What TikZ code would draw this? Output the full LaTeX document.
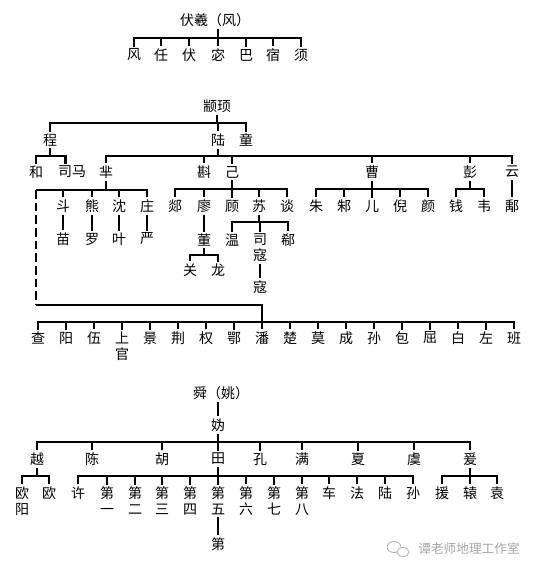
\documentclass[tikz,border=0pt]{standalone}
\usepackage{fontspec}
\newfontfamily\cjk{Noto Sans CJK SC}
\usepackage{tikz}

\tikzset{
  nm/.style={inner sep=1.4pt, align=center, font=\cjk\fontsize{10.5}{12}\selectfont},
  ln/.style={line width=1.8pt},
  dln/.style={line width=1.8pt, dash pattern=on 6.5pt off 3pt},
  wm/.style={inner sep=0.75pt, text=black!35, font=\cjk\fontsize{9.5}{11}\selectfont},
}

\begin{document}
\begin{tikzpicture}[x=0.75pt,y=0.75pt,yscale=-1,xscale=1]
\path[use as bounding box, fill=white] (0,0) rectangle (538,573);

%% ---------------- 伏羲 ----------------
% Text Node
\node[nm] (fuxi) at (215,20) {伏羲（风）};
\node[nm] (feng) at (134,55) {风};
\node[nm] (ren) at (161,55) {任};
\node[nm] (fu) at (189,55) {伏};
\node[nm] (mi) at (218,55) {宓};
\node[nm] (ba) at (246,55) {巴};
\node[nm] (su) at (273,55) {宿};
\node[nm] (xu) at (301,55) {须};
\coordinate (rFx) at (0,38);
%Straight Lines
\draw[ln] (mi.north |- fuxi.south) -- (mi.north |- rFx);
\draw[ln] (feng.north) |- (xu.north |- rFx) -- (xu.north);
\draw[ln] (ren.north) -- (ren.north |- rFx) (fu.north) -- (fu.north |- rFx)
  (mi.north) -- (mi.north |- rFx) (ba.north) -- (ba.north |- rFx)
  (su.north) -- (su.north |- rFx);

%% ---------------- 颛顼 ----------------
% Text Node
\node[nm] (zhuanxu) at (217,106) {颛顼};
\node[nm] (cheng) at (50,140) {程};
\node[nm] (lu) at (218,140) {陆};
\node[nm] (tong) at (246,140) {童};
\coordinate (rZx) at (0,123);
%Straight Lines
\draw[ln] (zhuanxu.south) -- (zhuanxu.south |- rZx);
\draw[ln] (cheng.north) |- (tong.north |- rZx) -- (tong.north);
\draw[ln] (lu.north) -- (lu.north |- rZx);

% Text Node
\node[nm] (he) at (36,172) {和};
\node[nm] (sima) at (72,172) {司马};
\node[nm] (mi2) at (106,172) {芈};
\node[nm] (zhen) at (204,172) {斟};
\node[nm] (ji) at (232,172) {己};
\node[nm] (cao) at (372,172) {曹};
\node[nm] (peng) at (470,172) {彭};
\node[nm] (yun) at (512,172) {云};
\coordinate (rCh) at (0,156);
%Straight Lines
\draw[ln] (cheng.south) -- (cheng.south |- rCh);
\draw[ln] (he.north) |- ([xshift=-5pt]sima.north |- rCh) -- ([xshift=-5pt]sima.north);
\draw[ln] (lu.south) -- (lu.south |- rCh);
\draw[ln] (mi2.north) |- (yun.north |- rCh) -- (yun.north);
\draw[ln] (zhen.north) -- (zhen.north |- rCh) (ji.north) -- (ji.north |- rCh)
  (cao.north) -- (cao.north |- rCh) (peng.north) -- (peng.north |- rCh);

% Text Node
\node[nm] (dou) at (63,206) {斗};
\node[nm] (xiong) at (92,206) {熊};
\node[nm] (shen) at (119,206) {沈};
\node[nm] (zhuang) at (147,206) {庄};
\node[nm] (miao) at (63,239) {苗};
\node[nm] (luo) at (92,239) {罗};
\node[nm] (ye) at (119,239) {叶};
\node[nm] (yan) at (147,239) {严};
\coordinate (rMi) at (0,190);
\coordinate (dTop) at (36,190);
\coordinate (dBot) at (36,305);
%Straight Lines
\draw[ln] (mi2.south) -- (mi2.south |- rMi);
\draw[ln] (dTop) -| (zhuang.north);
\draw[ln] (dou.north) -- (dou.north |- rMi) (xiong.north) -- (xiong.north |- rMi)
  (shen.north) -- (shen.north |- rMi);
\draw[ln] (dou.south) -- (miao.north);
\draw[ln] (xiong.south) -- (luo.north);
\draw[ln] (shen.south) -- (ye.north);
\draw[ln] (zhuang.south) -- (yan.north);
\draw[dln] (dTop) -- (dBot);

% Text Node
\node[nm] (tan) at (175,206) {郯};
\node[nm] (liao) at (204,206) {廖};
\node[nm] (gu) at (232,206) {顾};
\node[nm] (su2) at (259,206) {苏};
\node[nm] (tan2) at (287,206) {谈};
\node[nm] (dong) at (204,240) {董};
\node[nm] (guan) at (190,270) {关};
\node[nm] (long) at (218,270) {龙};
\node[nm] (wen) at (232,240) {温};
\node[nm] (sikou) at (260,248) {司\\寇};
\node[nm] (xi) at (288,240) {郗};
\node[nm] (kou) at (260,287) {寇};
\coordinate (rJi) at (0,189);
\coordinate (rSu) at (0,222);
\coordinate (rDong) at (0,255);
%Straight Lines
\draw[ln] (ji.south) -- (ji.south |- rJi);
\draw[ln] (tan.north) |- (tan2.north |- rJi) -- (tan2.north);
\draw[ln] (liao.north) -- (liao.north |- rJi) (gu.north) -- (gu.north |- rJi)
  (su2.north) -- (su2.north |- rJi);
\draw[ln] (liao.south) -- (dong.north);
\draw[ln] (dong.south) -- (dong.south |- rDong);
\draw[ln] (guan.north) |- (long.north |- rDong) -- (long.north);
\draw[ln] (su2.south) -- (su2.south |- rSu);
\draw[ln] (wen.north) |- (xi.north |- rSu) -- (xi.north);
\draw[ln] (sikou.north) -- (sikou.north |- rSu);
\draw[ln] (sikou.south) -- (kou.north);

% Text Node
\node[nm] (zhu) at (316,206) {朱};
\node[nm] (zhu2) at (344,206) {邾};
\node[nm] (er) at (372,206) {儿};
\node[nm] (ni) at (400,206) {倪};
\node[nm] (yan2) at (428,206) {颜};
\node[nm] (qian) at (456,206) {钱};
\node[nm] (wei) at (484,206) {韦};
\node[nm] (yu) at (512,206) {鄅};
\coordinate (rCao) at (0,189);
%Straight Lines
\draw[ln] (cao.south) -- (er.north);
\draw[ln] (zhu.north) |- (yan2.north |- rCao) -- (yan2.north);
\draw[ln] (zhu2.north) -- (zhu2.north |- rCao) (ni.north) -- (ni.north |- rCao);
\draw[ln] (peng.south) -- (peng.south |- rCao);
\draw[ln] (qian.north) |- (wei.north |- rCao) -- (wei.north);
\draw[ln] (yun.south) -- (yu.north);

% Text Node
\node[nm] (cha) at (38,338) {查};
\node[nm] (yang) at (66,338) {阳};
\node[nm] (wu) at (94,338) {伍};
\node[nm] (shangguan) at (122,346) {上\\官};
\node[nm] (jing) at (150,338) {景};
\node[nm] (jing2) at (178,338) {荆};
\node[nm] (quan) at (206,338) {权};
\node[nm] (e) at (234,338) {鄂};
\node[nm] (pan) at (262,338) {潘};
\node[nm] (chu) at (290,338) {楚};
\node[nm] (mo) at (318,338) {莫};
\node[nm] (cheng2) at (346,338) {成};
\node[nm] (sun) at (374,338) {孙};
\node[nm] (bao) at (402,338) {包};
\node[nm] (qu) at (430,338) {屈};
\node[nm] (bai) at (458,338) {白};
\node[nm] (zuo) at (486,338) {左};
\node[nm] (ban) at (514,338) {班};
\coordinate (rBig) at (0,322);
%Straight Lines
\draw[ln] (dBot) -| (pan.north);
\draw[ln] (cha.north) |- (ban.north |- rBig) -- (ban.north);
\draw[ln] (yang.north) -- (yang.north |- rBig) (wu.north) -- (wu.north |- rBig)
  (shangguan.north) -- (shangguan.north |- rBig) (jing.north) -- (jing.north |- rBig)
  (jing2.north) -- (jing2.north |- rBig) (quan.north) -- (quan.north |- rBig)
  (e.north) -- (e.north |- rBig) (chu.north) -- (chu.north |- rBig)
  (mo.north) -- (mo.north |- rBig) (cheng2.north) -- (cheng2.north |- rBig)
  (sun.north) -- (sun.north |- rBig) (bao.north) -- (bao.north |- rBig)
  (qu.north) -- (qu.north |- rBig) (bai.north) -- (bai.north |- rBig)
  (zuo.north) -- (zuo.north |- rBig);

%% ---------------- 舜 ----------------
% Text Node
\node[nm] (shun) at (221,393) {舜（姚）};
\node[nm] (gui) at (218,425) {妫};
\node[nm] (yue) at (37,459) {越};
\node[nm] (chen) at (92,459) {陈};
\node[nm] (hu) at (162,459) {胡};
\node[nm] (tian) at (218,459) {田};
\node[nm] (kong) at (260,459) {孔};
\node[nm] (man) at (302,459) {满};
\node[nm] (xia) at (358,459) {夏};
\node[nm] (yu2) at (414,459) {虞};
\node[nm] (yuan) at (470,459) {爰};
\coordinate (rGui) at (0,442);
%Straight Lines
\draw[ln] (gui.north |- shun.south) -- (gui.north);
\draw[ln] (gui.south) -- (tian.north);
\draw[ln] (yue.north) |- (yuan.north |- rGui) -- (yuan.north);
\draw[ln] (chen.north) -- (chen.north |- rGui) (hu.north) -- (hu.north |- rGui)
  (kong.north) -- (kong.north |- rGui) (man.north) -- (man.north |- rGui)
  (xia.north) -- (xia.north |- rGui) (yu2.north) -- (yu2.north |- rGui);

% Text Node
\node[nm] (ouyang) at (22,501) {欧\\阳};
\node[nm] (ou) at (49,493) {欧};
\node[nm] (xu2) at (78,493) {许};
\node[nm] (di1) at (107,501) {第\\一};
\node[nm] (di2) at (135,501) {第\\二};
\node[nm] (di3) at (162,501) {第\\三};
\node[nm] (di4) at (190,501) {第\\四};
\node[nm] (di5) at (218,501) {第\\五};
\node[nm] (di6) at (246,501) {第\\六};
\node[nm] (di7) at (274,501) {第\\七};
\node[nm] (di8) at (302,501) {第\\八};
\node[nm] (che) at (329,493) {车};
\node[nm] (fa) at (357,493) {法};
\node[nm] (lu2) at (385,493) {陆};
\node[nm] (sun2) at (413,493) {孙};
\node[nm] (di) at (218,544) {第};
\node[nm] (yuanA) at (442,493) {援};
\node[nm] (yuanB) at (470,493) {辕};
\node[nm] (yuanC) at (497,493) {袁};
\coordinate (rSub) at (0,476);
%Straight Lines
\draw[ln] (yue.south) -- (yue.south |- rSub);
\draw[ln] (ouyang.north) |- (ou.north |- rSub) -- (ou.north);
\draw[ln] (tian.south) -- (di5.north);
\draw[ln] (xu2.north) |- (sun2.north |- rSub) -- (sun2.north);
\draw[ln] (di1.north) -- (di1.north |- rSub) (di2.north) -- (di2.north |- rSub)
  (di3.north) -- (di3.north |- rSub) (di4.north) -- (di4.north |- rSub)
  (di6.north) -- (di6.north |- rSub) (di7.north) -- (di7.north |- rSub)
  (di8.north) -- (di8.north |- rSub) (che.north) -- (che.north |- rSub)
  (fa.north) -- (fa.north |- rSub) (lu2.north) -- (lu2.north |- rSub);
\draw[ln] (di5.south) -- (di.north);
\draw[ln] (yuan.south) -- (yuanB.north);
\draw[ln] (yuanA.north) |- (yuanC.north |- rSub) -- (yuanC.north);

%% watermark
\draw[black!30, line width=0.6pt] (394,547) ellipse (7 and 5.5);
\draw[black!30, line width=0.6pt, fill=white] (403,552) ellipse (6 and 4.5);
\node[wm] (mark) at (469,549) {谭老师地理工作室};

\end{tikzpicture}
\end{document}
